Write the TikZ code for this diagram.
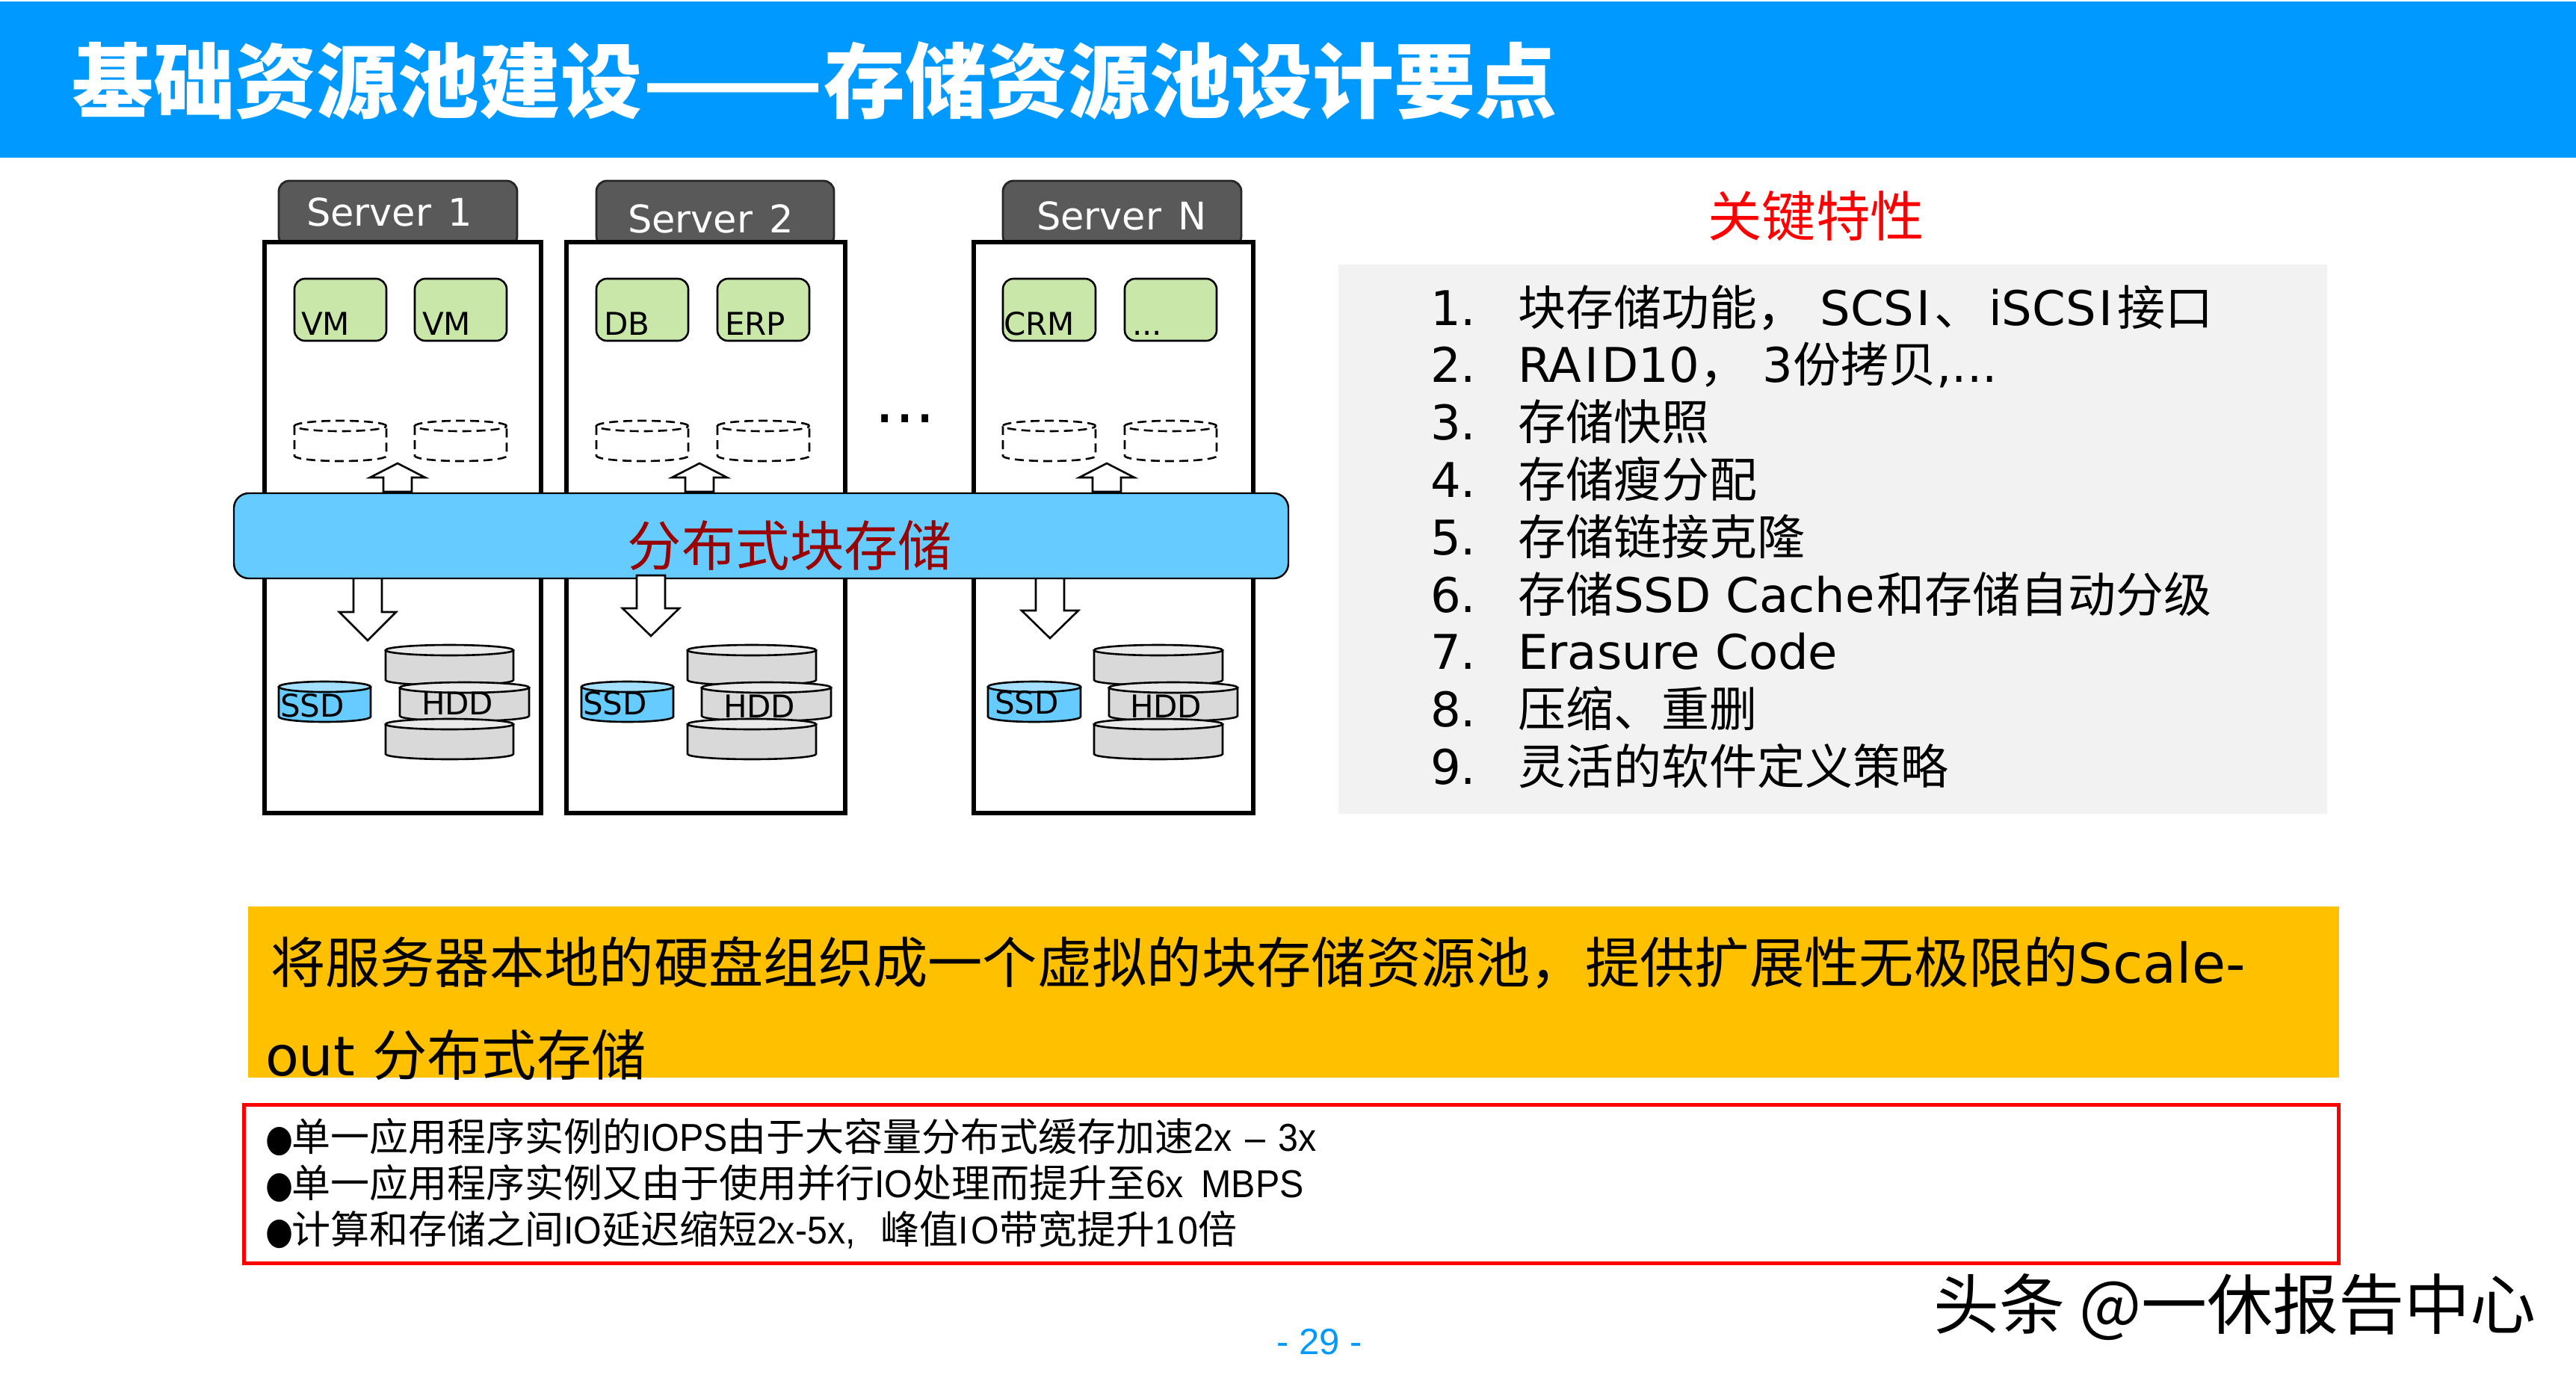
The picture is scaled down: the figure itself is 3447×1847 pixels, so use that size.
\documentclass[tikz,border=0pt]{standalone}
\usepackage{fontspec}
\setmainfont{DejaVu Sans}
\newfontfamily\cjkfont{Noto Sans CJK SC}
\newfontfamily\arialf[FakeStretch=0.93]{Liberation Sans}
\newfontfamily\arialp{Liberation Sans}
\newcommand{\zh}[1]{{\cjkfont #1}}
\newcommand{\fs}[1]{\fontsize{#1}{#1}\selectfont}
\newcommand{\wideI}{\kern1.7pt I\kern2.3pt}
\newcommand{\bul}{\scalebox{.85}[1]{\rmfamily\fs{25}●}}
\definecolor{banner}{HTML}{0099FF}
\definecolor{bandblue}{HTML}{66CCFF}
\definecolor{vmgreen}{HTML}{C9E7A8}
\definecolor{hdrgrey}{HTML}{595959}
\definecolor{diskgrey}{HTML}{D9D9D9}
\definecolor{disktop}{HTML}{EAEAEA}
\definecolor{ssdtop}{HTML}{A3E0FF}
\definecolor{listgrey}{HTML}{F2F2F2}
\definecolor{orangebar}{HTML}{FFC000}
\definecolor{darkred}{HTML}{990000}
\tikzset{
  txt/.style={inner sep=0pt,outer sep=0pt,anchor=base west},
  ctxt/.style={inner sep=0pt,outer sep=0pt,anchor=base},
  serverbody/.style={draw=black,line width=2.8pt,fill=white},
  serverhdr/.style={draw=black!85,line width=1.4pt,fill=hdrgrey,rounded corners=7pt},
  vmbox/.style={draw=black,line width=1.3pt,fill=vmgreen,rounded corners=7pt},
  blockarrow/.style={draw=black,line width=1.3pt,fill=white,line join=miter},
  vmlabel/.style={txt,font=\fs{21}},
  disklabel/.style={txt,font=\fs{21}},
  hdrlabel/.style={txt,text=white,font=\fs{25.5}},
  listline/.style={txt,font=\fs{32}},
  orangeline/.style={txt,font=\fs{36.65}},
  redline/.style={txt,font=\arialf\fs{26}},
}
% cylinder: x0,x1,ytop,ybot,fill,topfill,extra style (pixels of the reference)
\newcommand{\cyl}[7]{%
  \pgfmathsetmacro{\cx}{(#1+#2)/2}%
  \pgfmathsetmacro{\rxpt}{(#2-#1)/4}%
  \fill[#5] (#1,#3+7) -- (#1,#4-7)
     arc[start angle=180,end angle=360,x radius=\rxpt pt,y radius=3.5pt]
     -- (#2,#3+7) -- cycle;
  \draw[line width=1.3pt,#7] (#1,#3+7) -- (#1,#4-7)
     arc[start angle=180,end angle=360,x radius=\rxpt pt,y radius=3.5pt]
     -- (#2,#3+7);
  \draw[line width=1.3pt,fill=#6,#7] (\cx,#3+7) ellipse[x radius=\rxpt pt,y radius=3.5pt];
}
\newcommand{\uparr}[1]{%
  \draw[blockarrow] (#1-19,658) -- (#1-19,639) -- (#1-37,639) -- (#1,620) -- (#1+37,639) -- (#1+19,639) -- (#1+19,658) -- cycle;}
% cx, ytop, ybase, ytip
\newcommand{\downarr}[4]{%
  \draw[blockarrow] (#1-19,#2) -- (#1-19,#3) -- (#1-38,#3) -- (#1,#4) -- (#1+38,#3) -- (#1+19,#3) -- (#1+19,#2) -- cycle;}
\begin{document}
\begin{tikzpicture}[x=0.5pt,y=-0.5pt]
\useasboundingbox (0,0) rectangle (3447,1847);
\fill[white] (0,0) rectangle (3447,1847);
% banner
\fill[banner] (0,2) rectangle (3447,211);
\node[txt,text=white,font=\fs{54.5}\bfseries\cjkfont] (title) at (96,149) {基础资源池建设\scalebox{1.3}[1]{——}存储资源池设计要点};
% headers
\draw[serverhdr] (373,242) rectangle (692,330);
\draw[serverhdr] (798,242) rectangle (1116,330);
\draw[serverhdr] (1342,242) rectangle (1661,330);
\node[hdrlabel] (h1) at (410,302) {Server\kern3pt{} 1};
\node[hdrlabel] (h2) at (840,311) {Server\kern3pt{} 2};
\node[hdrlabel] (h3) at (1387,307) {Server\kern3pt{} N};
% bodies
\draw[serverbody] (354,324) rectangle (724,1088);
\draw[serverbody] (758,324) rectangle (1131,1088);
\draw[serverbody] (1303,324) rectangle (1677,1088);
% VM boxes
\draw[vmbox] (394,373) rectangle (517,456);
\draw[vmbox] (555,373) rectangle (678,456);
\draw[vmbox] (798,373) rectangle (921,456);
\draw[vmbox] (960,373) rectangle (1083,456);
\draw[vmbox] (1342,373) rectangle (1466,456);
\draw[vmbox] (1505,373) rectangle (1628,456);
\node[vmlabel] (v1) at (403,448) {VM};
\node[vmlabel] (v2) at (565,448) {VM};
\node[vmlabel] (v3) at (808,448) {DB};
\node[vmlabel] (v4) at (970,448) {ERP};
\node[vmlabel] (v5) at (1343,448) {CRM};
\node[vmlabel] (v6) at (1515,448) {...};
% dashed cylinders
\tikzset{dsh/.style={dash pattern=on 6pt off 3.5pt}}
\cyl{394}{517}{563}{617}{white}{white}{dsh}
\cyl{555}{678}{563}{617}{white}{white}{dsh}
\cyl{798}{921}{563}{617}{white}{white}{dsh}
\cyl{960}{1083}{563}{617}{white}{white}{dsh}
\cyl{1342}{1466}{563}{617}{white}{white}{dsh}
\cyl{1505}{1628}{563}{617}{white}{white}{dsh}
% up / down arrows
\uparr{532}\uparr{936}\uparr{1481}
\downarr{492}{772}{819}{857}
\downarr{1405}{772}{817}{854}
% band
\draw[draw=black,line width=1.2pt,fill=bandblue,rounded corners=10pt] (313,660) rectangle (1724,774);
\node[ctxt,text=darkred,font=\fs{36.2}\cjkfont] (band) at (1057,757) {分布式块存储};
\downarr{871}{770}{814}{851}
% dots
\node[txt,font=\fs{43}] (dots) at (1170,565) {...};
% disks
\cyl{373}{496}{912}{966}{bandblue}{ssdtop}{}
\cyl{778}{901}{912}{966}{bandblue}{ssdtop}{}
\cyl{1322}{1446}{912}{966}{bandblue}{ssdtop}{}
\cyl{516}{687}{863}{917}{diskgrey}{disktop}{}
\cyl{535}{708}{913}{965}{diskgrey}{disktop}{}
\cyl{516}{687}{962}{1016}{diskgrey}{disktop}{}
\cyl{920}{1092}{863}{917}{diskgrey}{disktop}{}
\cyl{939}{1112}{913}{965}{diskgrey}{disktop}{}
\cyl{920}{1092}{962}{1016}{diskgrey}{disktop}{}
\cyl{1464}{1636}{863}{917}{diskgrey}{disktop}{}
\cyl{1484}{1656}{913}{965}{diskgrey}{disktop}{}
\cyl{1464}{1636}{962}{1016}{diskgrey}{disktop}{}
\node[disklabel] (s1) at (375,959) {SSD};
\node[disklabel] (s2) at (780,956) {SSD};
\node[disklabel] (s3) at (1331,955) {SSD};
\node[disklabel] (d1) at (564,956) {HDD};
\node[disklabel] (d2) at (968,960) {HDD};
\node[disklabel] (d3) at (1512,960) {HDD};
% key features
\node[ctxt,text=red,font=\fs{36.2}\cjkfont] (kf) at (2430,316) {关键特性};
\fill[listgrey] (1791,354) rectangle (3114,1089);
\foreach \n/\t [count=\i from 0] in {
  1/{\zh{块存储功能，} SCS\wideI\zh{、}\kern4.5pt iSCS\wideI\kern1pt\zh{接口}},
  2/{RA\wideI D10\zh{，} 3\zh{份拷贝},...},
  3/{\zh{存储快照}},
  4/{\zh{存储瘦分配}},
  5/{\zh{存储链接克隆}},
  6/{\zh{存储}SSD Cache\kern1.5pt\zh{和存储自动分级}},
  7/{Erasure Code},
  8/{\zh{压缩、重删}},
  9/{\zh{灵活的软件定义策略}}}{
  \pgfmathsetmacro{\yy}{435+76.8*\i}
  \node[listline] (num\n) at (1914,\yy) {\n.};
  \node[listline] (item\n) at (2031,\yy) {\t};
}
% orange bar
\fill[orangebar] (332,1213) rectangle (3130,1442);
\node[orangeline] (o1) at (362,1315) {\zh{将服务器本地的硬盘组织成一个虚拟的块存储资源池，提供扩展性无极限的}Scale-};
\node[orangeline] (o2) at (355,1439) {out \zh{分布式存储}};
% red box
\draw[red,line width=2.5pt] (326.5,1478.5) rectangle (3129,1690.5);
\node[redline] (b1) at (355,1540) {\bul};
\node[redline] (b2) at (355,1602) {\bul};
\node[redline] (b3) at (355,1664) {\bul};
\node[redline] (r1) at (390,1540) {\zh{单一应用程序实例的}IOPS\zh{由于大容量分布式缓存加速}2x\kern2pt{} –\kern2pt{} 3x};
\node[redline] (r2) at (390,1602) {\zh{单一应用程序实例又由于使用并行}IO\zh{处理而提升至}6x\kern5pt{} MBPS};
\node[redline] (r3) at (390,1664) {\zh{计算和存储之间}IO\zh{延迟缩短}2x-5x,\kern10pt{} \zh{峰值}I\kern2pt O\zh{带宽提升}1\kern2pt 0\zh{倍}};
% page number and mark
\node[ctxt,text=banner,font=\arialp\fs{24.5}] (pg) at (1766,1812) {- 29 -};
\node[txt,font=\fs{44}\cjkfont] (wm) at (2587,1778) {头条 @一休报告中心};
\end{tikzpicture}
\end{document}
